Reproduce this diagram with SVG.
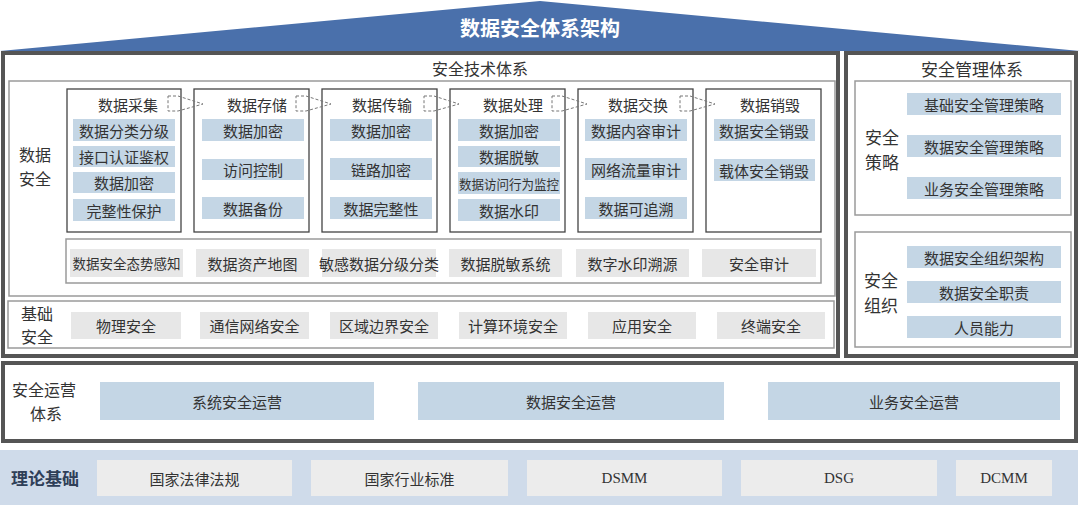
<svg xmlns="http://www.w3.org/2000/svg" width="1080" height="505" viewBox="0 0 1080 505">
<defs>
<style>
text{font-family:"Noto Sans CJK SC","Liberation Sans",sans-serif;fill:#333;text-anchor:middle;dominant-baseline:central}
.main{fill:#fff;stroke:#555;stroke-width:4}
.sec{fill:none;stroke:#9a9a9a;stroke-width:1.5}
.stage{fill:#fff;stroke:#444;stroke-width:1.3}
.blue{fill:#c4d6e5}
.gray{fill:#e7e7e7}
.lt{fill:#ececec}
.t15{font-size:15px}
.t14{font-size:14px}
.t17{font-size:17px}
.t16{font-size:16px}
.arr{fill:none;stroke:#777;stroke-width:1;stroke-dasharray:3 2}
.lat{font-family:"Liberation Serif",serif;font-size:15px}
</style>
</defs>
<rect width="1080" height="505" fill="#fff"/>
<g id="roof">
<polygon points="0,51 540,1 1080,51" fill="#4a70ab"/>
<text x="540" y="27" style="fill:#fff;font-size:20px;font-weight:bold">数据安全体系架构</text>
</g>
<g id="tech">
<rect class="main" x="3" y="53" width="835" height="303"/>
<text class="t16" x="480" y="68">安全技术体系</text>
</g>
<g id="data-security">
<rect class="sec" x="9" y="81" width="826" height="215"/>
<text class="t16" x="35" y="154">数据</text>
<text class="t16" x="35" y="178">安全</text>
</g>
<g id="stage-collect">
<rect class="stage" x="67" y="89" width="114" height="143"/>
<text class="t15" x="128" y="104">数据采集</text>
<rect class="blue" x="73" y="119" width="102" height="22"/><text class="t15" x="124" y="130">数据分类分级</text>
<rect class="blue" x="73" y="146" width="102" height="21"/><text class="t15" x="124" y="156.5">接口认证鉴权</text>
<rect class="blue" x="73" y="172" width="102" height="21"/><text class="t15" x="124" y="182.5">数据加密</text>
<rect class="blue" x="73" y="199" width="102" height="22"/><text class="t15" x="124" y="210">完整性保护</text>
</g>
<g id="stage-store">
<rect class="stage" x="194" y="89" width="115" height="143"/>
<text class="t15" x="257" y="104">数据存储</text>
<rect class="blue" x="202" y="119" width="102" height="22"/><text class="t15" x="253" y="130">数据加密</text>
<rect class="blue" x="202" y="159" width="102" height="21"/><text class="t15" x="253" y="169.5">访问控制</text>
<rect class="blue" x="202" y="197" width="102" height="22"/><text class="t15" x="253" y="208">数据备份</text>
</g>
<g id="stage-transfer">
<rect class="stage" x="322" y="89" width="115" height="143"/>
<text class="t15" x="382" y="104">数据传输</text>
<rect class="blue" x="330" y="119" width="102" height="22"/><text class="t15" x="381" y="130">数据加密</text>
<rect class="blue" x="330" y="158" width="102" height="22"/><text class="t15" x="381" y="169">链路加密</text>
<rect class="blue" x="330" y="197" width="102" height="22"/><text class="t15" x="381" y="208">数据完整性</text>
</g>
<g id="stage-process">
<rect class="stage" x="450" y="89" width="115" height="143"/>
<text class="t15" x="513" y="104">数据处理</text>
<rect class="blue" x="458" y="119" width="102" height="22"/><text class="t15" x="509" y="130">数据加密</text>
<rect class="blue" x="458" y="146" width="102" height="21"/><text class="t15" x="509" y="156.5">数据脱敏</text>
<rect class="blue" x="458" y="172" width="102" height="22"/><text x="509" y="183" style="font-size:13px" textLength="100" lengthAdjust="spacingAndGlyphs">数据访问行为监控</text>
<rect class="blue" x="458" y="199" width="102" height="22"/><text class="t15" x="509" y="210">数据水印</text>
</g>
<g id="stage-exchange">
<rect class="stage" x="578" y="89" width="115" height="143"/>
<text class="t15" x="638" y="104">数据交换</text>
<rect class="blue" x="585" y="119" width="102" height="22"/><text class="t15" x="636" y="130">数据内容审计</text>
<rect class="blue" x="585" y="158" width="102" height="22"/><text class="t15" x="636" y="169">网络流量审计</text>
<rect class="blue" x="585" y="197" width="102" height="22"/><text class="t15" x="636" y="208">数据可追溯</text>
</g>
<g id="stage-destroy">
<rect class="stage" x="706" y="89" width="115" height="143"/>
<text class="t15" x="770" y="104">数据销毁</text>
<rect class="blue" x="714" y="119" width="101" height="22"/><text class="t15" x="764" y="130">数据安全销毁</text>
<rect class="blue" x="714" y="159" width="101" height="22"/><text class="t15" x="764" y="170">载体安全销毁</text>
</g>
<g id="connectors">
<polygon class="arr" points="168,96 178,96 203,104 178,111 168,111"/>
<polygon class="arr" points="296,96 306,96 331,104 306,111 296,111"/>
<polygon class="arr" points="424,96 434,96 459,104 434,111 424,111"/>
<polygon class="arr" points="552,96 562,96 587,104 562,111 552,111"/>
<polygon class="arr" points="680,96 690,96 715,104 690,111 680,111"/>
</g>
<g id="tools">
<rect class="sec" x="66" y="239" width="755" height="44"/>
<rect class="gray" x="70" y="249" width="113" height="28"/><text x="126.5" y="263" style="font-size:13.5px">数据安全态势感知</text>
<rect class="gray" x="196" y="249" width="113" height="28"/><text class="t15" x="252.5" y="263">数据资产地图</text>
<rect class="gray" x="322" y="249" width="114" height="28"/><text class="t15" x="379" y="263">敏感数据分级分类</text>
<rect class="gray" x="449" y="249" width="113" height="28"/><text class="t15" x="505.5" y="263">数据脱敏系统</text>
<rect class="gray" x="576" y="249" width="113" height="28"/><text class="t15" x="632.5" y="263">数字水印溯源</text>
<rect class="gray" x="702" y="249" width="114" height="28"/><text class="t15" x="759" y="263">安全审计</text>
</g>
<g id="base-security">
<rect class="sec" x="8" y="301" width="826" height="47"/>
<text class="t16" x="37" y="313">基础</text>
<text class="t16" x="37" y="336">安全</text>
<rect class="gray" x="71" y="312" width="110" height="27"/><text class="t15" x="126" y="325.5">物理安全</text>
<rect class="gray" x="200" y="312" width="109" height="27"/><text class="t15" x="254.5" y="325.5">通信网络安全</text>
<rect class="gray" x="330" y="312" width="108" height="27"/><text class="t15" x="384" y="325.5">区域边界安全</text>
<rect class="gray" x="459" y="312" width="108" height="27"/><text class="t15" x="513" y="325.5">计算环境安全</text>
<rect class="gray" x="588" y="312" width="108" height="27"/><text class="t15" x="642" y="325.5">应用安全</text>
<rect class="gray" x="717" y="312" width="108" height="27"/><text class="t15" x="771" y="325.5">终端安全</text>
</g>
<g id="mgmt">
<rect class="main" x="846" y="53" width="230" height="303"/>
<text class="t17" x="972" y="68">安全管理体系</text>
</g>
<g id="mgmt-policy">
<rect class="sec" x="855" y="81" width="216" height="134"/>
<text class="t17" x="882" y="136">安全</text>
<text class="t17" x="882" y="161">策略</text>
<rect class="blue" x="907" y="93" width="154" height="22"/><text class="t15" x="984" y="104">基础安全管理策略</text>
<rect class="blue" x="907" y="135" width="154" height="22"/><text class="t15" x="984" y="146">数据安全管理策略</text>
<rect class="blue" x="907" y="177" width="154" height="22"/><text class="t15" x="984" y="188">业务安全管理策略</text>
</g>
<g id="mgmt-org">
<rect class="sec" x="855" y="232" width="216" height="115"/>
<text class="t17" x="881" y="279">安全</text>
<text class="t17" x="881" y="304">组织</text>
<rect class="blue" x="907" y="246" width="154" height="22"/><text class="t15" x="984" y="257">数据安全组织架构</text>
<rect class="blue" x="907" y="281" width="154" height="22"/><text class="t15" x="984" y="292">数据安全职责</text>
<rect class="blue" x="907" y="316" width="154" height="22"/><text class="t15" x="984" y="327">人员能力</text>
</g>
<g id="ops">
<rect class="main" x="3" y="363" width="1073" height="78"/>
<text class="t16" x="44" y="389">安全运营</text>
<text class="t16" x="46" y="413">体系</text>
<rect class="blue" x="100" y="382" width="274" height="38"/><text class="t15" x="237" y="401">系统安全运营</text>
<rect class="blue" x="418" y="382" width="306" height="38"/><text class="t15" x="571" y="401">数据安全运营</text>
<rect class="blue" x="768" y="382" width="292" height="38"/><text class="t15" x="914" y="401">业务安全运营</text>
</g>
<g id="theory">
<rect x="0" y="450" width="1078" height="55" fill="#cfdbea"/>
<text x="45" y="477" style="font-size:17px;font-weight:bold;fill:#2f3f58">理论基础</text>
<rect class="lt" x="97" y="460" width="195" height="36"/><text class="t15" x="194.5" y="478">国家法律法规</text>
<rect class="lt" x="311" y="460" width="197" height="36"/><text class="t15" x="409.5" y="478">国家行业标准</text>
<rect class="lt" x="527" y="460" width="195" height="36"/><text class="lat" x="624.5" y="478">DSMM</text>
<rect class="lt" x="741" y="460" width="196" height="36"/><text class="lat" x="839" y="478">DSG</text>
<rect class="lt" x="956" y="460" width="96" height="36"/><text class="lat" x="1004" y="478">DCMM</text>
</g>
</svg>
